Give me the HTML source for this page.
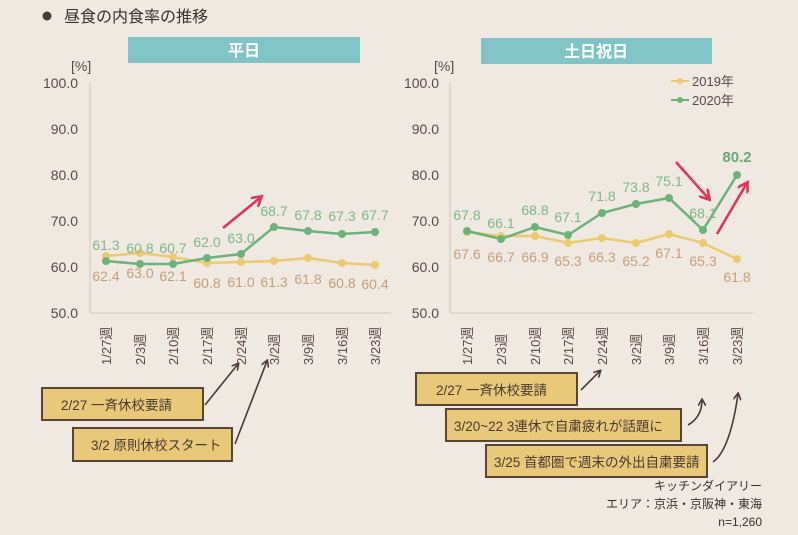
<!DOCTYPE html>
<html><head><meta charset="utf-8"><style>
body{margin:0;width:798px;height:535px;background:#efe9e2;overflow:hidden}
svg{display:block}
text{font-family:"Liberation Sans","Noto Sans CJK JP",sans-serif}
</style></head><body>
<svg width="798" height="535" viewBox="0 0 798 535">
<defs>
<marker id="ad" markerWidth="8" markerHeight="8" refX="6" refY="4" orient="auto" markerUnits="userSpaceOnUse"><path d="M0,0 L7,4 L0,8" fill="none" stroke="#4a3a32" stroke-width="1.6"/></marker>
<marker id="ar" markerWidth="12" markerHeight="12" refX="9" refY="6" orient="auto" markerUnits="userSpaceOnUse"><path d="M0,0 L10,6 L0,12" fill="none" stroke="#e0365a" stroke-width="2.6"/></marker>
</defs>
<rect width="798" height="535" fill="#efe9e2"/>
<circle cx="47" cy="16" r="4.5" fill="#4a3a32"/>
<text x="64" y="22" font-size="16" fill="#3a302a">昼食の内食率の推移</text>
<rect x="128" y="37" width="232" height="26" fill="#80c4c6"/>
<text x="244" y="56" font-size="16" font-weight="bold" fill="#fff" text-anchor="middle">平日</text>
<rect x="481" y="38" width="231" height="26" fill="#80c4c6"/>
<text x="596" y="57" font-size="16" font-weight="bold" fill="#fff" text-anchor="middle">土日祝日</text>
<g font-size="14" fill="#5a4a42">
<text x="71" y="71">[%]</text><text x="434" y="71">[%]</text>
<g text-anchor="end">
<text x="78" y="88">100.0</text><text x="78" y="134">90.0</text><text x="78" y="180">80.0</text><text x="78" y="226">70.0</text><text x="78" y="272">60.0</text><text x="78" y="318">50.0</text>
<text x="439" y="88">100.0</text><text x="439" y="134">90.0</text><text x="439" y="180">80.0</text><text x="439" y="226">70.0</text><text x="439" y="272">60.0</text><text x="439" y="318">50.0</text>
</g></g>
<g stroke="#cfc6bc" stroke-width="1"><line x1="90" y1="83" x2="90" y2="313"/><line x1="90" y1="313" x2="391" y2="313"/><line x1="450" y1="83" x2="450" y2="313"/><line x1="450" y1="313" x2="753" y2="313"/></g>
<polyline points="106,256 140,253 173,257 207,263 241,262 274,261 308,258 342,263 375,265" fill="none" stroke="#ecca70" stroke-width="2.5"/>
<g fill="#ecca70"><circle cx="106" cy="256" r="4"/><circle cx="140" cy="253" r="4"/><circle cx="173" cy="257" r="4"/><circle cx="207" cy="263" r="4"/><circle cx="241" cy="262" r="4"/><circle cx="274" cy="261" r="4"/><circle cx="308" cy="258" r="4"/><circle cx="342" cy="263" r="4"/><circle cx="375" cy="265" r="4"/></g>
<polyline points="106,261 140,264 173,264 207,258 241,254 274,227 308,231 342,234 375,232" fill="none" stroke="#6cb27a" stroke-width="2.5"/>
<g fill="#6cb27a"><circle cx="106" cy="261" r="4"/><circle cx="140" cy="264" r="4"/><circle cx="173" cy="264" r="4"/><circle cx="207" cy="258" r="4"/><circle cx="241" cy="254" r="4"/><circle cx="274" cy="227" r="4"/><circle cx="308" cy="231" r="4"/><circle cx="342" cy="234" r="4"/><circle cx="375" cy="232" r="4"/></g>
<g font-size="14" fill="#7fb887" text-anchor="middle">
<text x="106" y="250">61.3</text><text x="140" y="253">60.8</text><text x="173" y="253">60.7</text><text x="207" y="247">62.0</text><text x="241" y="243">63.0</text><text x="274" y="216">68.7</text><text x="308" y="220">67.8</text><text x="342" y="221">67.3</text><text x="375" y="220">67.7</text>
</g>
<g font-size="14" fill="#c4a07a" text-anchor="middle">
<text x="106" y="281">62.4</text><text x="140" y="278">63.0</text><text x="173" y="281">62.1</text><text x="207" y="288">60.8</text><text x="241" y="287">61.0</text><text x="274" y="287">61.3</text><text x="308" y="284">61.8</text><text x="342" y="288">60.8</text><text x="375" y="289">60.4</text>
</g>
<polyline points="467,232 501,236 535,236 568,243 602,238 636,243 669,234 703,243 737,259" fill="none" stroke="#ecca70" stroke-width="2.5"/>
<g fill="#ecca70"><circle cx="467" cy="232" r="4"/><circle cx="501" cy="236" r="4"/><circle cx="535" cy="236" r="4"/><circle cx="568" cy="243" r="4"/><circle cx="602" cy="238" r="4"/><circle cx="636" cy="243" r="4"/><circle cx="669" cy="234" r="4"/><circle cx="703" cy="243" r="4"/><circle cx="737" cy="259" r="4"/></g>
<polyline points="467,231 501,239 535,227 568,235 602,213 636,204 669,198 703,230 737,175" fill="none" stroke="#6cb27a" stroke-width="2.5"/>
<g fill="#6cb27a"><circle cx="467" cy="231" r="4"/><circle cx="501" cy="239" r="4"/><circle cx="535" cy="227" r="4"/><circle cx="568" cy="235" r="4"/><circle cx="602" cy="213" r="4"/><circle cx="636" cy="204" r="4"/><circle cx="669" cy="198" r="4"/><circle cx="703" cy="230" r="4"/><circle cx="737" cy="175" r="4"/></g>
<g font-size="14" fill="#7fb887" text-anchor="middle">
<text x="467" y="220">67.8</text><text x="501" y="228">66.1</text><text x="535" y="215">68.8</text><text x="568" y="222">67.1</text><text x="602" y="201">71.8</text><text x="636" y="192">73.8</text><text x="669" y="186">75.1</text><text x="703" y="218">68.1</text>
<text x="737" y="162" font-weight="bold" font-size="15" fill="#6aa874">80.2</text>
</g>
<g font-size="14" fill="#c4a07a" text-anchor="middle">
<text x="467" y="259">67.6</text><text x="501" y="262">66.7</text><text x="535" y="262">66.9</text><text x="568" y="266">65.3</text><text x="602" y="262">66.3</text><text x="636" y="266">65.2</text><text x="669" y="258">67.1</text><text x="703" y="266">65.3</text><text x="737" y="282">61.8</text>
</g>
<line x1="671" y1="81" x2="689" y2="81" stroke="#ecca70" stroke-width="2"/><circle cx="680" cy="81" r="3" fill="#ecca70"/>
<text x="692" y="86" font-size="13" fill="#5a4a42">2019年</text>
<line x1="671" y1="100" x2="689" y2="100" stroke="#6cb27a" stroke-width="2"/><circle cx="680" cy="100" r="3" fill="#6cb27a"/>
<text x="692" y="105" font-size="13" fill="#5a4a42">2020年</text>
<g font-size="13" fill="#5a4a42">
<text transform="translate(111,365) rotate(-90)">1/27週</text><text transform="translate(145,365) rotate(-90)">2/3週</text><text transform="translate(178,365) rotate(-90)">2/10週</text><text transform="translate(212,365) rotate(-90)">2/17週</text><text transform="translate(246,365) rotate(-90)">2/24週</text><text transform="translate(279,365) rotate(-90)">3/2週</text><text transform="translate(313,365) rotate(-90)">3/9週</text><text transform="translate(347,365) rotate(-90)">3/16週</text><text transform="translate(380,365) rotate(-90)">3/23週</text>
<text transform="translate(472,365) rotate(-90)">1/27週</text><text transform="translate(506,365) rotate(-90)">2/3週</text><text transform="translate(540,365) rotate(-90)">2/10週</text><text transform="translate(573,365) rotate(-90)">2/17週</text><text transform="translate(607,365) rotate(-90)">2/24週</text><text transform="translate(641,365) rotate(-90)">3/2週</text><text transform="translate(674,365) rotate(-90)">3/9週</text><text transform="translate(708,365) rotate(-90)">3/16週</text><text transform="translate(742,365) rotate(-90)">3/23週</text>
</g>
<g stroke="#e0365a" stroke-width="2.6" fill="none">
<line x1="223" y1="228" x2="261" y2="197" marker-end="url(#ar)"/>
<line x1="676" y1="162" x2="709" y2="199" marker-end="url(#ar)"/>
<line x1="717" y1="234" x2="747" y2="183" marker-end="url(#ar)"/>
</g>
<g fill="#e8c97a" stroke="#5a4438" stroke-width="2">
<rect x="42" y="388" width="161" height="32"/><rect x="73" y="428" width="159" height="33"/>
<rect x="416" y="373" width="161" height="32"/><rect x="446" y="409" width="235" height="32"/><rect x="486" y="445" width="221" height="32"/>
</g>
<g font-size="13.5" fill="#4a3a32">
<text x="61" y="410">2/27 一斉休校要請</text><text x="91" y="450">3/2 原則休校スタート</text>
<text x="436" y="395">2/27 一斉休校要請</text><text x="454" y="431">3/20~22 3連休で自粛疲れが話題に</text><text x="494" y="467">3/25 首都圏で週末の外出自粛要請</text>
</g>
<g stroke="#4a3a32" stroke-width="1.6" fill="none">
<line x1="205" y1="405" x2="238" y2="364" marker-end="url(#ad)"/>
<line x1="235" y1="444" x2="267" y2="361" marker-end="url(#ad)"/>
<line x1="581" y1="390" x2="600" y2="371" marker-end="url(#ad)"/>
<path d="M688,425 Q702,417 702,400" marker-end="url(#ad)"/>
<path d="M713,462 Q730,450 738,394" marker-end="url(#ad)"/>
</g>
<g font-size="12" fill="#3a302a" text-anchor="end">
<text x="762" y="490">キッチンダイアリー</text><text x="762" y="508">エリア：京浜・京阪神・東海</text><text x="762" y="526">n=1,260</text>
</g>
</svg>
</body></html>
